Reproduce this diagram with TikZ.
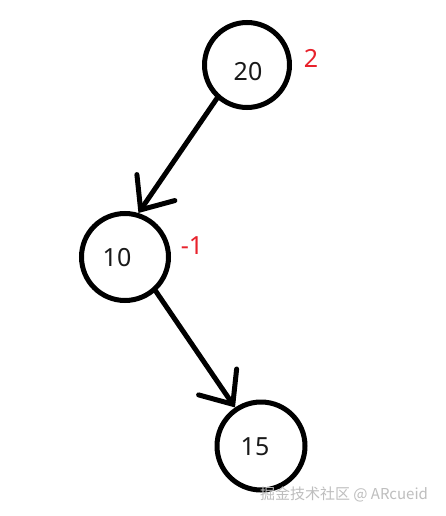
\documentclass[tikz,border=0pt]{standalone}
\usepackage{fontspec}
\setmainfont{Noto Sans}
\newfontfamily\cjk{Noto Sans CJK SC}
\usetikzlibrary{arrows.meta}
\definecolor{balred}{RGB}{232,34,44}
\definecolor{wmgray}{RGB}{190,190,190}
\begin{document}
\begin{tikzpicture}[x=1pt,y=-1pt,
  treenode/.style={circle,draw=black,line width=5pt,inner sep=0pt,outer sep=2.5pt},
  numtext/.style={font=\fontsize{25}{30}\selectfont,text=black!90,inner sep=0pt},
  baltext/.style={font=\fontsize{25}{30}\selectfont,text=balred,inner sep=0pt},
  edge/.style={line width=5pt,line cap=round,-{Straight Barb[length=27pt,width=46pt,line cap=round]}}]
\useasboundingbox[fill=white] (0,0) rectangle (445,516);
\node[treenode,minimum size=85pt] (n20) at (247,65) {};
\node[treenode,minimum size=87pt] (n10) at (125,257) {};
\node[treenode,minimum size=88pt] (n15) at (261,446) {};
\node[numtext] (t20) at (248,72) {20};
\node[numtext] (t10) at (117,258) {10};
\node[numtext] (t15) at (255,447) {15};
\node[baltext] (b20) at (311,58) {2};
\node[baltext] (b10) at (192,246) {-1};
\draw[edge] (n20.228) -- (n10.73);
\draw[edge] (n10.312) -- (n15.124);
\node[font=\cjk\fontsize{15}{18}\selectfont,text=wmgray,inner sep=0pt] (wm) at (344,494) {掘金技术社区 @ ARcueid};
\end{tikzpicture}
\end{document}
